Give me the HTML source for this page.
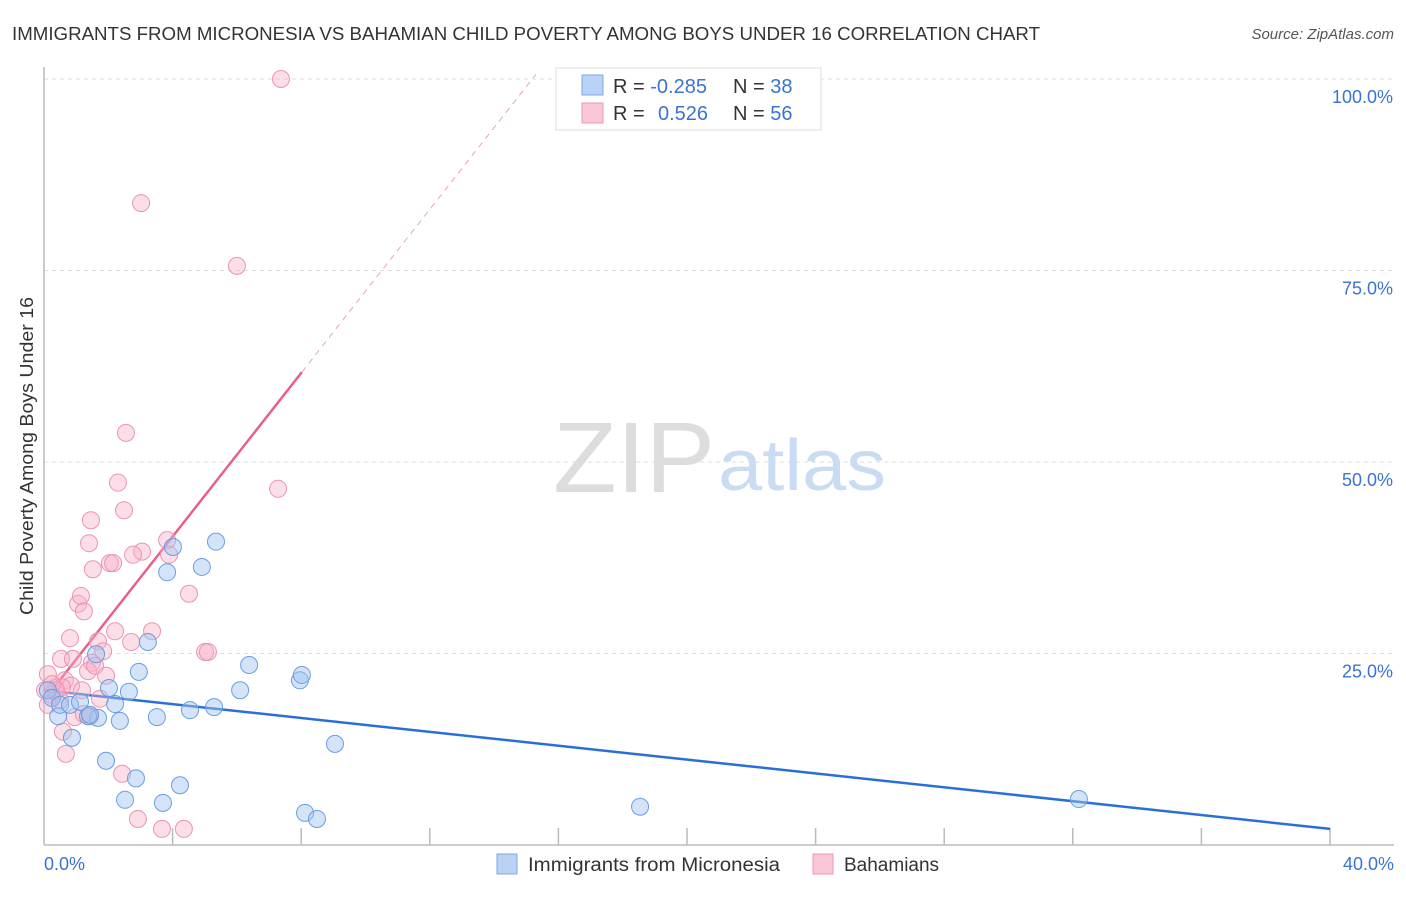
<!DOCTYPE html>
<html><head><meta charset="utf-8"><style>
body{margin:0;background:#fff;font-family:"Liberation Sans",sans-serif;}
svg text{font-family:"Liberation Sans",sans-serif;}
</style></head><body>
<svg width="1406" height="892" viewBox="0 0 1406 892">
<text x="12" y="40" font-size="18" fill="#333" textLength="1028" lengthAdjust="spacingAndGlyphs">IMMIGRANTS FROM MICRONESIA VS BAHAMIAN CHILD POVERTY AMONG BOYS UNDER 16 CORRELATION CHART</text>
<text x="1394" y="39" font-size="15" fill="#555" font-style="italic" text-anchor="end">Source: ZipAtlas.com</text>
<text x="33" y="456" font-size="18" fill="#333" text-anchor="middle" textLength="318" lengthAdjust="spacingAndGlyphs" transform="rotate(-90 33 456)">Child Poverty Among Boys Under 16</text>
<g id="grid"></g>
<line x1="44" y1="67" x2="44" y2="845" stroke="#bbb" stroke-width="1.5"/>
<line x1="44" y1="845" x2="1394" y2="845" stroke="#bbb" stroke-width="1.5"/>
<text x="553" y="492" font-size="100" fill="#ddd" font-family="Liberation Serif" textLength="162" lengthAdjust="spacingAndGlyphs">ZIP</text>
<text x="718" y="490" font-size="72" fill="#c9dcf3" textLength="168" lengthAdjust="spacingAndGlyphs">atlas</text>
<g id="lines"></g>
<g id="points"></g>
<text x="44" y="870" font-size="18" fill="#3b73d1">0.0%</text>
<text x="1394" y="870" font-size="18" fill="#3b73d1" text-anchor="end">40.0%</text>
<g>
<rect x="556" y="68" width="265" height="62" fill="#fff" stroke="#ddd"/>
<rect x="582" y="75" width="21" height="20" fill="#b9d2f5" stroke="#7ea8e3"/>
<rect x="582" y="103" width="21" height="20" fill="#f9c7d6" stroke="#ec9ab5"/>
<text x="613" y="93" font-size="20" fill="#333">R = <tspan fill="#3b73d1">-0.285</tspan></text>
<text x="733" y="93" font-size="20" fill="#333">N = <tspan fill="#3b73d1">38</tspan></text>
<text x="613" y="120" font-size="20" fill="#333">R = <tspan fill="#3b73d1" x="658">0.526</tspan></text>
<text x="733" y="120" font-size="20" fill="#333">N = <tspan fill="#3b73d1">56</tspan></text>
</g>
<g>
<rect x="497" y="854" width="20" height="20" fill="#b9d2f5" stroke="#7ea8e3"/>
<text x="528" y="871" font-size="19" fill="#333" textLength="252" lengthAdjust="spacingAndGlyphs">Immigrants from Micronesia</text>
<rect x="813" y="854" width="20" height="20" fill="#f9c7d6" stroke="#ec9ab5"/>
<text x="844" y="871" font-size="19" fill="#333">Bahamians</text>
</g>
</svg>
<script>
const yTicks=[25,50,75,100];
const yTickLabels=["25.0%","50.0%","75.0%","100.0%"];
const xTicks=[4,8,12,16,20,24,28,32,36,40];
const blueX=[3.83,5.35,4.01,4.91,3.23,2.95,1.62,2.02,2.64,6.38,6.10,7.96,8.02,4.54,5.29,3.51,2.36,1.68,1.37,0.44,0.87,1.93,2.86,4.23,2.52,3.70,8.12,8.49,9.05,18.54,32.19,0.12,0.25,0.50,0.81,1.12,2.21,1.43];
const blueY=[35.6,39.6,38.9,36.3,26.5,22.6,24.9,20.5,20.0,23.5,20.2,21.5,22.2,17.6,18.0,16.7,16.2,16.6,16.8,16.8,14.0,11.0,8.7,7.8,5.9,5.5,4.2,3.4,13.2,5.0,6.0,20.2,19.2,18.3,18.3,18.7,18.4,17.0];
const pinkX=[7.37,3.02,6.0,2.55,7.28,2.30,2.49,1.46,1.40,3.83,3.05,2.77,2.05,2.15,1.52,3.89,1.06,1.15,1.24,4.51,0.81,2.21,3.36,1.68,2.71,5.01,5.10,0.53,0.90,1.49,1.84,0.12,0.65,1.37,1.59,1.93,0.84,0.34,0.56,1.74,0.25,0.50,0.96,1.43,0.59,0.68,2.43,2.92,3.67,4.35,0.12,0.37,1.18,1.24,0.03,0.25];
const pinkY=[100,83.8,75.6,53.8,46.5,47.3,43.7,42.4,39.4,39.8,38.3,37.9,36.8,36.8,36.0,37.9,31.5,32.5,30.5,32.8,27.0,27.9,27.9,26.6,26.5,25.2,25.2,24.3,24.3,23.8,25.3,22.3,21.5,22.7,23.4,22.1,20.8,20.5,20.6,19.1,19.6,18.9,16.7,16.8,14.8,11.9,9.3,3.4,2.1,2.1,18.3,20.2,20.2,17.1,20.2,21.0];
const blueFit=[20.2,2.1];
const pinkFit=[18.9,5.34];
const NS="http://www.w3.org/2000/svg";
const sx=v=>44+v*32.15, sy=v=>845-v*7.66;
function mk(tag,attrs,parent){const e=document.createElementNS(NS,tag);for(const k in attrs)e.setAttribute(k,attrs[k]);parent.appendChild(e);return e;}
const grid=document.getElementById('grid');
yTicks.forEach((t,i)=>{
  const l=mk('line',{x1:44,x2:1394,y1:sy(t),y2:sy(t),stroke:'#ddd','stroke-dasharray':'4,4'},grid);
  
  
  const tx=mk('text',{x:1393,y:sy(t)+24,'font-size':18,fill:'#3b73d1','text-anchor':'end'},grid);
  tx.textContent=yTickLabels[i];
  
  
});
xTicks.forEach(t=>{
  const l=mk('line',{x1:sx(t),x2:sx(t),y1:828,y2:845,stroke:'#bbb','stroke-width':1.5},grid);
  
  
});
const lines=document.getElementById('lines');
const bl=mk('line',{x1:sx(0),y1:sy(blueFit[0]),x2:sx(40),y2:sy(blueFit[1]),stroke:'#2a6fd6','stroke-width':2.5},lines);


const pl=mk('line',{x1:sx(0),y1:sy(pinkFit[0]),x2:sx(8.02),y2:sy(pinkFit[0]+pinkFit[1]*8.02),stroke:'#e8608a','stroke-width':2.5},lines);


const pd=mk('line',{x1:sx(8.02),y1:sy(pinkFit[0]+pinkFit[1]*8.02),x2:sx(15.3),y2:sy(pinkFit[0]+pinkFit[1]*15.3),stroke:'#efa0b8','stroke-width':1,'stroke-dasharray':'6,5'},lines);


const pts=document.getElementById('points');
pinkX.forEach((x,i)=>{
  const c=mk('circle',{cx:sx(x),cy:sy(pinkY[i]),r:8.5,fill:'rgba(246,176,199,0.42)',stroke:'#ec94b2','stroke-width':1},pts);
  
  
});
blueX.forEach((x,i)=>{
  const c=mk('circle',{cx:sx(x),cy:sy(blueY[i]),r:8.5,fill:'rgba(160,196,240,0.45)',stroke:'#6b9de0','stroke-width':1},pts);
  
  
});
</script>
</body></html>
